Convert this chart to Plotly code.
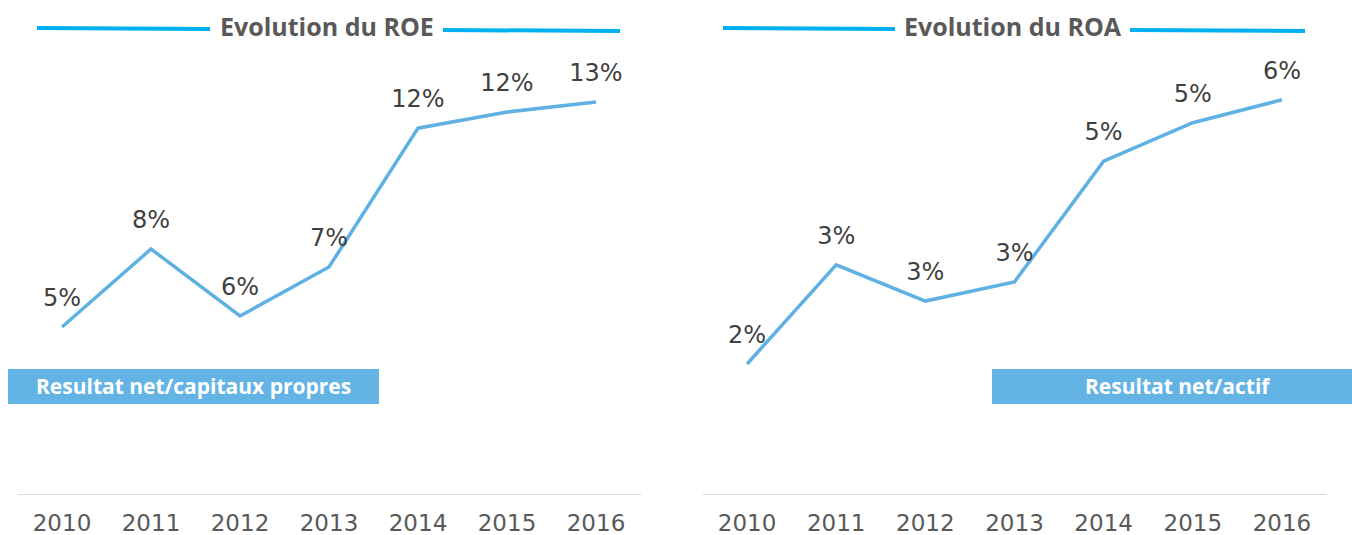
import plotly.graph_objects as go

years = ["2010", "2011", "2012", "2013", "2014", "2015", "2016"]
roe = [0.052, 0.078, 0.0557, 0.072, 0.1183, 0.1237, 0.127]
roa = [0.021, 0.0344, 0.0295, 0.0321, 0.0484, 0.0536, 0.0567]

titles = ["Evolution du ROE", "Evolution du ROA"]
box_labels = ["Resultat net/capitaux propres", "Resultat net/actif"]

W, H = 1352, 535
LINE = "#5FB1E4"
BOX = "#63B4E5"
CYAN = "#00B0F0"
TXT = "#404040"
GRAY = "#595959"
FONT = "Open Sans"
NUMFONT = "DejaVu Sans"

def px(x):
    return x / W

def py(y):
    return 1 - y / H

fig = go.Figure()
for vals, xa, ya in [(roe, "x", "y"), (roa, "x2", "y2")]:
    fig.add_trace(go.Scatter(x=years, y=vals, mode="lines+markers+text",
                             texttemplate="%{y:.0%}", textposition="top center",
                             textfont=dict(size=24, color=TXT, family=NUMFONT),
                             marker=dict(size=22, opacity=0),
                             line=dict(color=LINE, width=3.5), xaxis=xa, yaxis=ya,
                             hoverinfo="skip", cliponaxis=False))

xcommon = dict(type="category", range=[-0.5, 6.5], showgrid=False, zeroline=False,
               showline=True, linecolor="#D9D9D9", linewidth=1, ticks="", automargin=False,
               tickfont=dict(size=23, color=GRAY, family=NUMFONT), ticklabelstandoff=8)
ydom = [py(494), py(40)]
fig.update_layout(
    width=W, height=H, margin=dict(l=0, r=0, t=0, b=0, autoexpand=False),
    paper_bgcolor="white", plot_bgcolor="white", showlegend=False,
    xaxis=dict(domain=[px(17.5), px(640.5)], anchor="y", **xcommon),
    xaxis2=dict(domain=[px(702.5), px(1326.5)], anchor="y2", **xcommon),
    yaxis=dict(domain=ydom, range=[-0.00367, 0.1477], visible=False, anchor="x", automargin=False),
    yaxis2=dict(domain=ydom, range=[0.00343, 0.06478], visible=False, anchor="x2", automargin=False),
)

shapes = []
annotations = []
for (l1, l2, r1, r2, cx), t in zip([(37, 210, 443, 620, 327), (723, 895, 1130, 1305, 1013)], titles):
    shapes.append(dict(type="line", xref="paper", yref="paper", x0=px(l1), x1=px(l2),
                       y0=py(28), y1=py(29), line=dict(color=CYAN, width=4)))
    shapes.append(dict(type="line", xref="paper", yref="paper", x0=px(r1), x1=px(r2),
                       y0=py(30), y1=py(31), line=dict(color=CYAN, width=4)))
    annotations.append(dict(text="<b>%s</b>" % t, xref="paper", yref="paper", x=px(cx), y=py(26),
                            showarrow=False, xanchor="center", yanchor="middle",
                            font=dict(size=25, color=GRAY, family=FONT)))
for (x0, x1), lab in zip([(8, 379), (992, 1352)], box_labels):
    shapes.append(dict(type="rect", xref="paper", yref="paper", x0=px(x0), x1=px(x1),
                       y0=py(404), y1=py(369), fillcolor=BOX, line=dict(width=0)))
    cx = (x0 + x1) / 2 if x1 < 1352 else 1178
    annotations.append(dict(text="<b>%s</b>" % lab, xref="paper", yref="paper", x=px(cx), y=py(386),
                            showarrow=False, xanchor="center", yanchor="middle",
                            font=dict(size=21, color="white", family=FONT)))
fig.update_layout(shapes=shapes, annotations=annotations)

fig.write_html("out.html", config={"displayModeBar": False},
               post_script="document.body.style.margin='0';document.body.style.overflow='hidden';")
